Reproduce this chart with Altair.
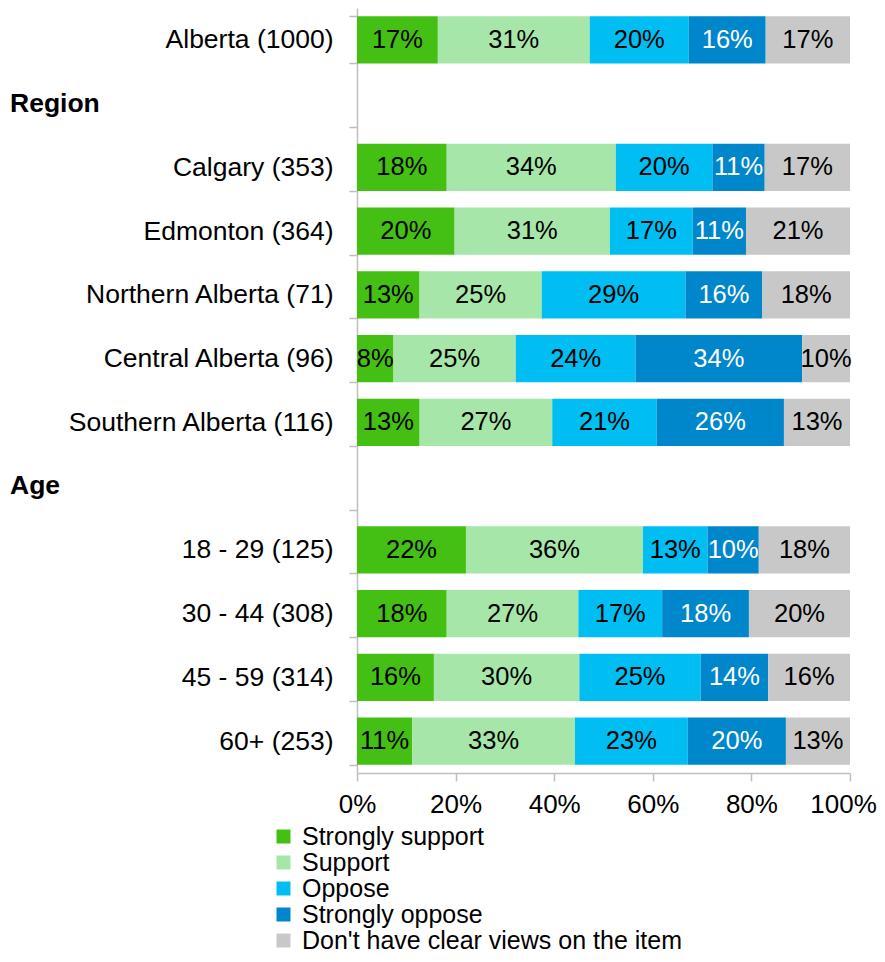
import altair as alt
import pandas as pd

# Row order on the y axis (header rows "Region" and "Age" have no bars)
rows = ["Alberta (1000)", "Region", "Calgary (353)", "Edmonton (364)",
        "Northern Alberta (71)", "Central Alberta (96)", "Southern Alberta (116)",
        "Age", "18 - 29 (125)", "30 - 44 (308)", "45 - 59 (314)", "60+ (253)"]
headers = ["Region", "Age"]

bar_rows = ["Alberta (1000)", "Calgary (353)", "Edmonton (364)",
            "Northern Alberta (71)", "Central Alberta (96)", "Southern Alberta (116)",
            "18 - 29 (125)", "30 - 44 (308)", "45 - 59 (314)", "60+ (253)"]

categories = ["Strongly support", "Support", "Oppose", "Strongly oppose",
              "Don't have clear views on the item"]
colors = ["#44BF13", "#A6E6A8", "#00BEF2", "#0086CB", "#C8C8C8"]

# Segment widths (percent)
strongly_support = [16.4, 18.2, 19.8, 12.7, 7.4, 12.7, 22.1, 18.2, 15.6, 11.2]
support          = [30.8, 34.3, 31.5, 24.8, 24.8, 26.9, 35.9, 26.7, 29.5, 33.0]
oppose           = [20.1, 19.6, 16.8, 29.2, 24.3, 21.2, 13.1, 17.0, 24.6, 22.9]
strongly_oppose  = [15.6, 10.6, 10.8, 15.6, 33.8, 25.8, 10.4, 17.6, 13.7, 19.9]
dont_know        = [17.1, 17.3, 21.1, 17.8, 9.7, 13.4, 18.5, 20.5, 16.6, 13.0]

# Printed labels
ss_lbl = [17, 18, 20, 13, 8, 13, 22, 18, 16, 11]
s_lbl  = [31, 34, 31, 25, 25, 27, 36, 27, 30, 33]
o_lbl  = [20, 20, 17, 29, 24, 21, 13, 17, 25, 23]
so_lbl = [16, 11, 11, 16, 34, 26, 10, 18, 14, 20]
dk_lbl = [17, 17, 21, 18, 10, 13, 18, 20, 16, 13]

series = [strongly_support, support, oppose, strongly_oppose, dont_know]
labels = [ss_lbl, s_lbl, o_lbl, so_lbl, dk_lbl]

records = []
for ci, cat in enumerate(categories):
    for ri, r in enumerate(bar_rows):
        records.append({"row": r, "category": cat, "order": ci,
                        "value": series[ci][ri], "label": f"{labels[ci][ri]}%"})
df = pd.DataFrame(records)

FONT = "Liberation Sans"
FS = 25.5      # data labels
AFS = 26.5     # axis / header text
LFS = 25       # legend text
GRAY = "#BFBFBF"

y_scale = alt.Scale(domain=rows, paddingInner=0.26, paddingOuter=0.13)

base = alt.Chart(df).transform_stack(
    stack="value", groupby=["row"], sort=[alt.SortField("order")],
    as_=["x0", "x1"], offset="normalize"
).transform_calculate(mid="(datum.x0 + datum.x1) / 2")

bars = base.mark_bar().encode(
    y=alt.Y("row:N", scale=y_scale, sort=rows,
            axis=alt.Axis(title=None,
                          labelExpr="datum.value == 'Region' || datum.value == 'Age' ? '' : datum.value",
                          tickBand="extent", tickSize=8, labelPadding=16,
                          domainColor=GRAY, tickColor=GRAY, domainWidth=1.5, tickWidth=1.5,
                          labelFontSize=AFS, labelFont=FONT, labelColor="black",
                          labelLimit=400)),
    x=alt.X("x0:Q", scale=alt.Scale(domain=[0, 1], nice=False),
            axis=alt.Axis(title=None, format="%", values=[0, 0.2, 0.4, 0.6, 0.8, 1.0],
                          grid=False, tickSize=8, labelPadding=10, labelFlush=False,
                          labelOffset={"condition": {"test": "datum.value === 1", "value": -7},
                                       "value": 0},
                          domainColor=GRAY, tickColor=GRAY, domainWidth=1.5, tickWidth=1.5,
                          labelFontSize=26, labelFont=FONT, labelColor="black")),
    x2="x1:Q",
    color=alt.Color("category:N", scale=alt.Scale(domain=categories, range=colors),
                    legend=alt.Legend(title=None, orient="none", legendX=-86, legendY=816,
                                      direction="vertical", symbolType="square",
                                      symbolSize=196, symbolStrokeWidth=0,
                                      labelFontSize=LFS, labelFont=FONT, labelColor="black",
                                      labelOffset=6, rowPadding=0, labelLimit=600)),
    order=alt.Order("order:Q"),
)

text = base.mark_text(fontSize=FS, font=FONT, baseline="middle").encode(
    y=alt.Y("row:N", scale=y_scale, sort=rows),
    x=alt.X("mid:Q"),
    text="label:N",
    color=alt.condition(alt.datum.category == "Strongly oppose",
                        alt.value("white"), alt.value("black")),
)

head = alt.Chart(pd.DataFrame({"row": headers})).mark_text(
    align="left", baseline="middle", fontWeight="bold", fontSize=AFS, font=FONT, color="black"
).encode(
    y=alt.Y("row:N", scale=y_scale, sort=rows),
    x=alt.value(-347),
    text="row:N",
)

chart = alt.layer(bars, text, head).properties(
    width=493, height=765,
    autosize=alt.AutoSizeParams(type="none"),
    padding={"left": 349, "top": 0, "right": 27, "bottom": 181},
).configure_view(stroke=None)

chart.save("out.html", embed_options={"renderer": "svg", "actions": False})
